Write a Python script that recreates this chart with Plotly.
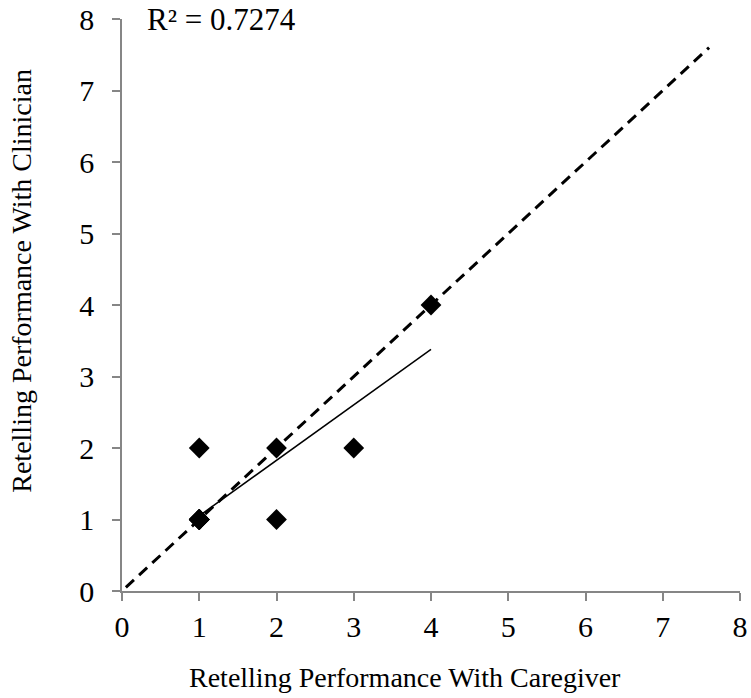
import numpy as np
import plotly.graph_objects as go

# Data (six overlapping points at (1,1))
caregiver = [1, 1, 1, 1, 1, 1, 1, 2, 2, 3, 4]
clinician = [1, 1, 1, 1, 1, 1, 2, 2, 1, 2, 4]
identity_x = [0.05, 7.6]
identity_y = [0.05, 7.6]
tick_vals = [0, 1, 2, 3, 4, 5, 6, 7, 8]

slope, intercept = np.polyfit(caregiver, clinician, 1)
pred = np.polyval([slope, intercept], caregiver)
ss_res = np.sum((np.array(clinician) - pred) ** 2)
ss_tot = np.sum((np.array(clinician) - np.mean(clinician)) ** 2)
r2 = 1 - ss_res / ss_tot
trend_x = [min(caregiver), max(caregiver)]
trend_y = [slope * v + intercept for v in trend_x]

font = "Liberation Serif, Times New Roman, serif"

fig = go.Figure()
fig.add_trace(go.Scatter(x=identity_x, y=identity_y, mode="lines",
                         line=dict(color="black", width=3, dash="11px,7px"),
                         hoverinfo="skip", showlegend=False))
fig.add_trace(go.Scatter(x=trend_x, y=trend_y, mode="lines",
                         line=dict(color="black", width=1.5),
                         hoverinfo="skip", showlegend=False))
fig.add_trace(go.Scatter(x=caregiver, y=clinician, mode="markers",
                         marker=dict(symbol="diamond", size=16, color="black"),
                         showlegend=False))

fig.add_annotation(x=0.3, y=8.0, xref="x", yref="y", xanchor="left", yanchor="middle",
                   text=f"R² = {r2:.4f}", showarrow=False,
                   font=dict(family=font, size=31, color="black"))

fig.add_annotation(x=(404.5 - 122) / 618, y=(591 - 677) / 571.5, xref="paper", yref="paper",
                   xanchor="center", yanchor="middle", showarrow=False,
                   text="Retelling Performance With Caregiver",
                   font=dict(family=font, size=28, color="black"))
fig.add_annotation(x=(22 - 122) / 618, y=(591 - 281) / 571.5, xref="paper", yref="paper",
                   xanchor="center", yanchor="middle", showarrow=False, textangle=-90,
                   text="Retelling Performance With Clinician",
                   font=dict(family=font, size=28, color="black"))

axis_common = dict(range=[0, 8], tickvals=tick_vals, showgrid=False, zeroline=False,
                   showline=True, linecolor="#868686", linewidth=1.5,
                   ticks="outside", ticklen=8, tickcolor="#868686", tickwidth=1.5,
                   automargin=False, ticklabeloverflow="allow",
                   tickfont=dict(family=font, size=30, color="black"))

fig.update_xaxes(**axis_common)
fig.update_yaxes(**axis_common, ticklabelstandoff=12)

fig.update_layout(width=751, height=698, plot_bgcolor="white", paper_bgcolor="white",
                  margin=dict(l=122, r=11, t=19, b=107))

fig.write_html("out.html", config={"displayModeBar": False},
               post_script="document.body.style.margin='0';document.body.style.overflow='hidden';")
